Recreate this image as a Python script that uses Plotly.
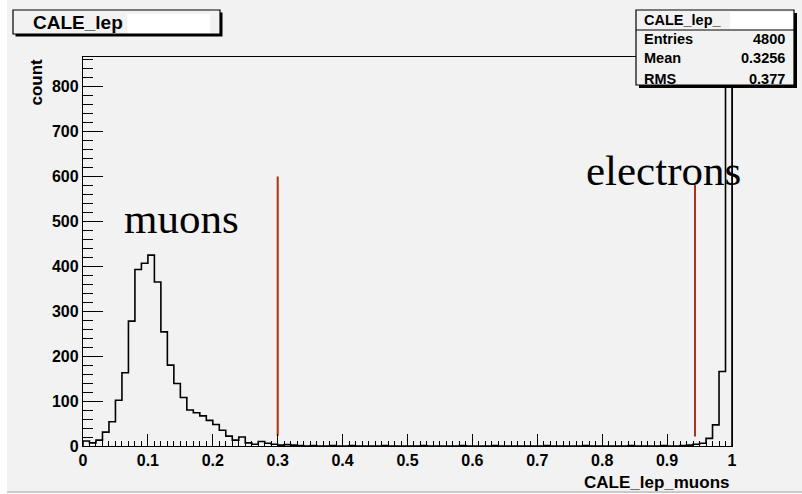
import plotly.graph_objects as go

# ---- data ----
bin_width = 0.01
counts = [
    11, 7, 13, 31, 54, 102, 163, 278, 393, 407,      # 0.00 - 0.09
    425, 365, 254, 180, 139, 108, 80, 74, 67, 57,    # 0.10 - 0.19
    48, 35, 22, 13, 20, 7, 4, 10, 6, 4,              # 0.20 - 0.29
    2, 3, 2, 1, 0, 1, 0, 0, 1, 0,                    # 0.30 - 0.39
    0, 1, 0, 0, 0, 0, 1, 0, 0, 0,                    # 0.40 - 0.49
    0, 0, 1, 0, 0, 0, 0, 0, 1, 0,                    # 0.50 - 0.59
    0, 0, 0, 1, 0, 0, 0, 0, 0, 0,                    # 0.60 - 0.69
    0, 1, 0, 0, 0, 0, 0, 1, 0, 0,                    # 0.70 - 0.79
    0, 0, 0, 0, 1, 0, 0, 0, 0, 1,                    # 0.80 - 0.89
    0, 0, 1, 2, 4, 6, 17, 47, 166, 830,              # 0.90 - 0.99
]
cut_x = [0.30, 0.943]
cut_y_low = [22, 21]
cut_y_high = [600, 581]
labels = ["muons", "electrons"]
label_x = [0.0595, 0.772]
label_y = [507, 613]

hist_name = "CALE_lep_"
stats_rows = [("Entries", "4800"), ("Mean", "0.3256"), ("RMS", "0.377")]
y_max = 866

# ---- geometry helpers (pixel -> paper) ----
W, H = 802, 494
L, R, T, B = 83, 732, 57, 446
def px(x):
    return (x - L) / (R - L)
def py(y):
    return (B - y) / (B - T)

BG = "#f2f2f2"
FONT = "Liberation Sans"

edges = [i * bin_width for i in range(len(counts) + 1)]
xs = [0.0] + edges
ys = [0] + counts + [0]

fig = go.Figure()
fig.add_trace(go.Scatter(x=xs, y=ys, mode="lines", line=dict(shape="hv", color="black", width=1.6),
                         hoverinfo="skip", showlegend=False))
for cx, lo, hi in zip(cut_x, cut_y_low, cut_y_high):
    fig.add_trace(go.Scatter(x=[cx, cx], y=[lo, hi], mode="lines",
                             line=dict(color="#b5300e", width=2), showlegend=False, hoverinfo="skip"))

shapes = []
# canvas background strip and bottom line
shapes.append(dict(type="rect", xref="paper", yref="paper", x0=px(7), x1=px(802), y0=py(491), y1=py(0),
                   fillcolor=BG, line=dict(width=0), layer="below"))
shapes.append(dict(type="line", xref="paper", yref="paper", x0=px(7), x1=px(802), y0=py(492), y1=py(492),
                   line=dict(color="#b8b8b8", width=1.5), layer="below"))

def shadow_box(x0, y0, x1, y1, sh=3):
    shapes.append(dict(type="rect", xref="paper", yref="paper", x0=px(x0 + sh), x1=px(x1 + sh),
                       y0=py(y1 + sh), y1=py(y0 + sh), fillcolor="black", line=dict(width=0), layer="above"))
    shapes.append(dict(type="rect", xref="paper", yref="paper", x0=px(x0), x1=px(x1),
                       y0=py(y1), y1=py(y0), fillcolor=BG, line=dict(color="black", width=1.2), layer="above"))

# title box
shadow_box(13, 10, 220, 34, 2.5)
shapes.append(dict(type="rect", xref="paper", yref="paper", x0=px(127), x1=px(210), y0=py(33), y1=py(14),
                   fillcolor="white", line=dict(width=0), layer="above"))
# stats box
shadow_box(636, 10, 794, 85, 3)
shapes.append(dict(type="rect", xref="paper", yref="paper", x0=px(730), x1=px(793), y0=py(29), y1=py(12),
                   fillcolor="white", line=dict(width=0), layer="above"))
shapes.append(dict(type="line", xref="paper", yref="paper", x0=px(636), x1=px(794), y0=py(30), y1=py(30),
                   line=dict(color="black", width=1.2), layer="above"))

ann = []
ann.append(dict(text="CALE_lep", x=px(31), y=py(22), xref="paper", yref="paper", xanchor="left",
                yanchor="middle", showarrow=False, font=dict(family=FONT, size=19, color="black", weight=700)))
ann.append(dict(text=hist_name, x=px(642), y=py(20), xref="paper", yref="paper", xanchor="left",
                yanchor="middle", showarrow=False, font=dict(family=FONT, size=14.5, color="black", weight=700)))
for i, (k, v) in enumerate(stats_rows):
    yy = 38.5 + 20 * i
    ann.append(dict(text=k, x=px(642), y=py(yy), xref="paper", yref="paper", xanchor="left",
                    yanchor="middle", showarrow=False, font=dict(family=FONT, size=14.5, color="black", weight=700)))
    ann.append(dict(text=v, x=px(787), y=py(yy), xref="paper", yref="paper", xanchor="right",
                    yanchor="middle", showarrow=False, font=dict(family=FONT, size=14.5, color="black", weight=700)))
for t, lx, ly in zip(labels, label_x, label_y):
    ann.append(dict(text=t, x=lx, y=ly, xref="x", yref="y", xanchor="left", yanchor="middle",
                    showarrow=False, font=dict(family="Liberation Serif", size=43, color="black")))
ann.append(dict(text="CALE_lep_muons", x=px(731), y=py(482), xref="paper", yref="paper", xanchor="right",
                yanchor="middle", showarrow=False, font=dict(family=FONT, size=17, color="black", weight=700)))
ann.append(dict(text="count", x=px(36), y=py(57), xref="paper", yref="paper", xanchor="center",
                yanchor="top", textangle=-90, showarrow=False,
                font=dict(family=FONT, size=17, color="black", weight=700)))

tickfont = dict(family=FONT, size=16, color="black", weight=700)
fig.update_layout(
    width=W, height=H,
    margin=dict(l=L, r=W - R, t=T, b=H - B, pad=0),
    paper_bgcolor="white", plot_bgcolor=BG,
    shapes=shapes, annotations=ann,
    xaxis=dict(range=[0, 1], dtick=0.1, tick0=0, ticks="inside", ticklen=12, tickwidth=1.2,
               tickcolor="black", showline=True, linecolor="black", linewidth=1.4, mirror=True,
               showgrid=False, zeroline=False, tickfont=tickfont, tickformat="~g",
               minor=dict(dtick=0.01, ticks="inside", ticklen=5, tickcolor="black", tickwidth=1, showgrid=False)),
    yaxis=dict(range=[0, y_max], dtick=100, tick0=0, ticks="inside", ticklen=20, tickwidth=1.2,
               tickcolor="black", showline=True, linecolor="black", linewidth=1.4, mirror=True,
               showgrid=False, zeroline=False, tickfont=tickfont,
               minor=dict(dtick=20, ticks="inside", ticklen=10, tickcolor="black", tickwidth=1, showgrid=False)),
)
fig.write_html("out.html", config={"displayModeBar": False},
               post_script="document.body.style.margin='0px';document.body.style.padding='0px';")
